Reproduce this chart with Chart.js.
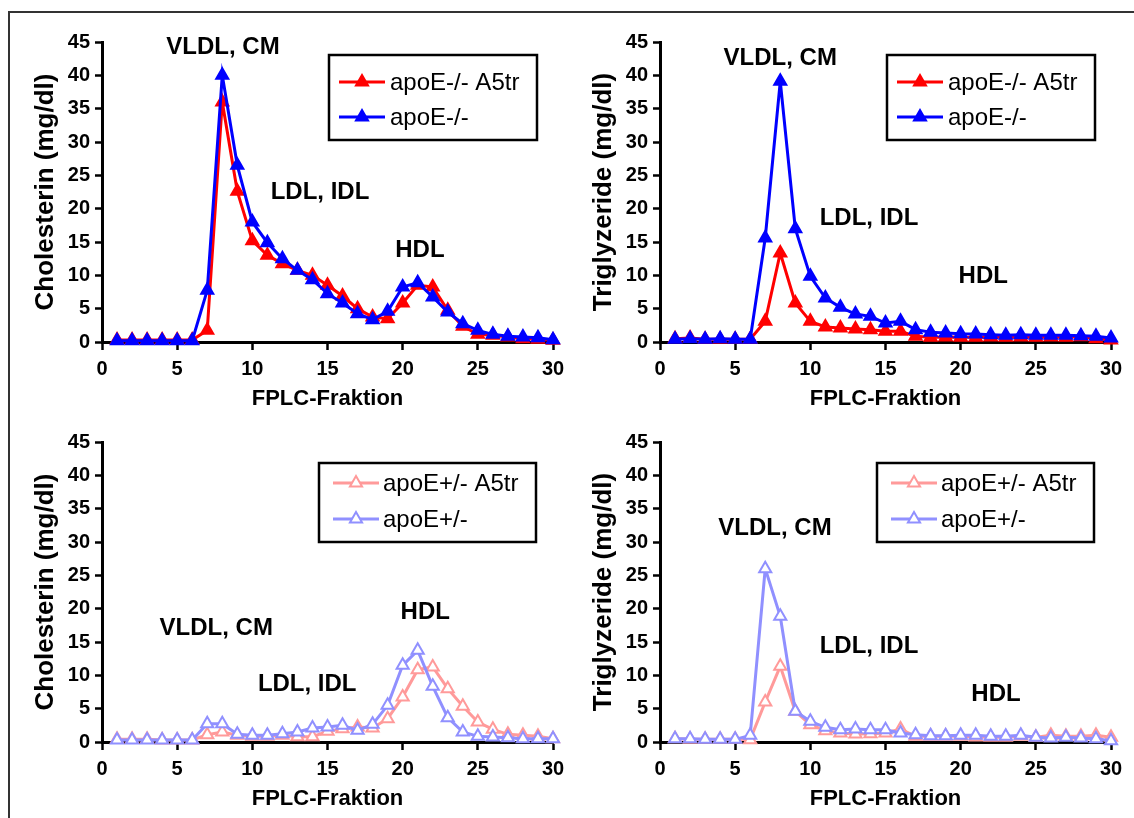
<!DOCTYPE html>
<html>
<head>
<meta charset="utf-8">
<script src="https://cdn.jsdelivr.net/npm/chart.js@4.4.0/dist/chart.umd.min.js"></script>
<style>
  body { margin: 0; background: #fff; width: 1134px; height: 818px; overflow: hidden; position: relative; }
  #frame { position: absolute; left: 8px; top: 11px; width: 1200px; height: 900px; border: 2px solid #333; }
  canvas { position: absolute; }
</style>
</head>
<body>
<div id="frame"></div>
<canvas id="cholKO" width="567" height="420" style="left:0px;top:0px"></canvas>
<canvas id="trigKO" width="567" height="420" style="left:558px;top:0px"></canvas>
<canvas id="cholHet" width="567" height="420" style="left:0px;top:400px"></canvas>
<canvas id="trigHet" width="567" height="420" style="left:558px;top:400px"></canvas>
<script>
// FPLC fractions (x values)
const fractions = [1, 2, 3, 4, 5, 6, 7, 8, 9, 10, 11, 12, 13, 14, 15, 16, 17, 18, 19, 20, 21, 22, 23, 24, 25, 26, 27, 28, 29, 30];
const xTicks = [0, 5, 10, 15, 20, 25, 30];
const yTicks = [0, 5, 10, 15, 20, 25, 30, 35, 40, 45];

// Cholesterin, apoE-/- mice
const cholKO_A5tr = [0.3, 0.3, 0.3, 0.3, 0.3, 0.3, 1.75, 36, 22.6, 15.2, 13, 11.75, 10.75, 10, 8.5, 6.9, 5, 3.75, 3.5, 5.85, 8.5, 8.25, 4.75, 2.35, 1.15, 1, 0.75, 0.5, 0.4, 0.25];
const cholKO = [0.2, 0.2, 0.2, 0.2, 0.2, 0.2, 7.75, 40, 26.5, 18, 14.9, 12.5, 10.75, 9.35, 7.25, 5.85, 4.25, 3.35, 4.6, 8.25, 8.9, 6.75, 4.5, 2.75, 1.75, 1.15, 0.85, 0.75, 0.65, 0.35];

// Triglyzeride, apoE-/- mice
const trigKO_A5tr = [0.5, 0.6, 0.4, 0.4, 0.4, 0.4, 3.1, 13.35, 5.85, 3.1, 2.25, 2.1, 1.95, 1.85, 1.6, 1.6, 0.85, 0.7, 0.75, 0.7, 0.7, 0.75, 0.7, 0.75, 0.7, 0.75, 0.7, 0.8, 0.5, 0.3];
const trigKO = [0.4, 0.5, 0.4, 0.5, 0.4, 0.4, 15.6, 39.1, 17, 9.85, 6.6, 5.2, 4.2, 3.85, 2.85, 3.1, 1.85, 1.45, 1.35, 1.25, 1.2, 1.1, 1.0, 1.1, 1.0, 1.0, 1.0, 0.95, 0.85, 0.6];

// Cholesterin, apoE+/- mice
const cholHet_A5tr = [0.4, 0.4, 0.4, 0.3, 0.3, 0.3, 1.1, 1.5, 1.0, 0.85, 0.85, 1.0, 0.8, 0.8, 1.6, 2.0, 2.25, 2.1, 3.5, 6.75, 10.85, 11.25, 8.0, 5.35, 3.0, 1.9, 1.15, 1.0, 0.85, 0.5];
const cholHet = [0.3, 0.3, 0.3, 0.3, 0.3, 0.3, 2.75, 2.75, 1.15, 1.0, 1.0, 1.25, 1.5, 2.1, 2.25, 2.5, 1.75, 2.65, 5.5, 11.5, 13.75, 8.35, 3.65, 1.5, 0.85, 0.75, 0.65, 0.5, 0.5, 0.5];

// Triglyzeride, apoE+/- mice
const trigHet_A5tr = [0.5, 0.4, 0.4, 0.4, 0.4, 0.35, 6.0, 11.35, 4.6, 2.6, 1.7, 1.35, 1.2, 1.25, 1.35, 1.95, 0.85, 0.85, 0.85, 0.85, 0.75, 0.7, 0.7, 0.85, 0.7, 1.0, 0.85, 0.85, 1.0, 0.7];
const trigHet = [0.5, 0.5, 0.4, 0.4, 0.4, 1.0, 26.0, 18.85, 4.6, 3.1, 2.2, 1.85, 1.95, 1.85, 1.85, 1.35, 1.1, 0.95, 0.95, 1.0, 1.0, 0.85, 0.85, 1.0, 0.7, 0.6, 0.7, 0.6, 0.5, 0.2];

const FONT = '"Liberation Sans", Arial, Helvetica, sans-serif';
Chart.defaults.color = '#000';
Chart.defaults.font.family = FONT;

// --- plugin: region labels placed at data coordinates ---
const regionLabels = {
    id: 'regionLabels',
    afterDraw(chart, args, opts) {
        const ctx = chart.ctx;
        const sx = chart.scales.x, sy = chart.scales.y;
        ctx.save();
        ctx.font = 'bold 24px ' + FONT;
        ctx.fillStyle = '#000';
        ctx.textAlign = 'center';
        ctx.textBaseline = 'middle';
        (opts.items || []).forEach(it => {
            ctx.fillText(it.text, sx.getPixelForValue(it.x), sy.getPixelForValue(it.y));
        });
        ctx.restore();
    }
};

// --- plugin: boxed legend like the original figure ---
const boxLegend = {
    id: 'boxLegend',
    afterDraw(chart, args, opts) {
        if (!opts.w) return;
        const ctx = chart.ctx;
        ctx.save();
        ctx.fillStyle = '#fff';
        ctx.fillRect(opts.x, opts.y, opts.w, opts.h);
        ctx.lineWidth = 2.5;
        ctx.strokeStyle = '#000';
        ctx.strokeRect(opts.x, opts.y, opts.w, opts.h);
        ctx.font = '24px ' + FONT;
        ctx.textBaseline = 'middle';
        chart.data.datasets.forEach((ds, i) => {
            const y = opts.y + opts.rows[i];
            ctx.strokeStyle = ds.borderColor;
            ctx.lineWidth = ds.borderWidth;
            ctx.beginPath();
            ctx.moveTo(opts.x + opts.lineX, y);
            ctx.lineTo(opts.x + opts.lineX + 46, y);
            ctx.stroke();
            ctx.fillStyle = ds.pointBackgroundColor;
            ctx.lineWidth = ds.pointBorderWidth;
            Chart.helpers.drawPoint(ctx, { pointStyle: 'triangle', radius: ds.pointRadius, borderWidth: ds.pointBorderWidth, rotation: 0 }, opts.x + opts.lineX + 23, y);
            ctx.fillStyle = '#000';
            ctx.fillText(ds.label, opts.x + opts.textX, y + 1);
        });
        ctx.restore();
    }
};

function series(label, values, color, fill, order) {
    return {
        label: label,
        data: values.map((v, i) => ({ x: fractions[i], y: v })),
        borderColor: color,
        backgroundColor: color,
        pointBackgroundColor: fill,
        pointBorderColor: color,
        pointBorderWidth: 2,
        borderWidth: 3,
        pointStyle: 'triangle',
        pointRadius: 7,
        tension: 0,
        clip: false,
        order: order
    };
}

function makeChart(id, yTitle, datasets, notes, legendBox) {
    return new Chart(document.getElementById(id), {
        type: 'line',
        data: { datasets: datasets },
        options: {
            responsive: false,
            animation: false,
            layout: { padding: { top: 42, right: 14, left: 0, bottom: 0 } },
            scales: {
                x: {
                    type: 'linear', min: 0, max: 30,
                    afterBuildTicks: s => { s.ticks = xTicks.map(v => ({ value: v })); },
                    // fixed box so the plot area lines up with the original
                    afterFit: s => { s.height = 78; s.paddingLeft = 0; s.paddingRight = 0; },
                    border: { display: true, color: '#000', width: 3 },
                    grid: { display: true, drawOnChartArea: false, drawTicks: true, tickLength: 8, tickWidth: 2.5, tickColor: '#000' },
                    ticks: { padding: 7, font: { size: 20, weight: 'bold' }, color: '#000' },
                    title: { display: true, text: 'FPLC-Fraktion', font: { size: 22, weight: 'bold' }, color: '#000', padding: { top: 0, bottom: 8 } }
                },
                y: {
                    type: 'linear', min: 0, max: 45,
                    afterBuildTicks: s => { s.ticks = yTicks.map(v => ({ value: v })); },
                    afterFit: s => { s.width = 102; },
                    border: { display: true, color: '#000', width: 3 },
                    grid: { display: true, drawOnChartArea: false, drawTicks: true, tickLength: 7, tickWidth: 2.5, tickColor: '#000' },
                    ticks: { padding: 5, font: { size: 20, weight: 'bold' }, color: '#000' },
                    title: { display: true, text: yTitle, font: { size: 26, weight: 'bold' }, color: '#000', padding: { top: 30, bottom: 0 } }
                }
            },
            plugins: {
                legend: { display: false },
                tooltip: { enabled: false },
                regionLabels: { items: notes },
                boxLegend: legendBox
            }
        },
        plugins: [regionLabels, boxLegend]
    });
}

const topLegend = { x: 329, y: 55, w: 208, h: 85, rows: [27, 62], lineX: 10, textX: 61 };
const bottomLegend = { x: 319, y: 63, w: 217, h: 79, rows: [20, 56], lineX: 14, textX: 64 };

makeChart('cholKO', 'Cholesterin (mg/dl)', [
    series('apoE-/- A5tr', cholKO_A5tr, '#ff0000', '#ff0000', 1),
    series('apoE-/-', cholKO, '#0000ff', '#0000ff', 0)
], [
    { text: 'VLDL, CM', x: 8.05, y: 44.25 },
    { text: 'LDL, IDL', x: 14.5, y: 22.5 },
    { text: 'HDL', x: 21.15, y: 13.8 }
], topLegend);

makeChart('trigKO', 'Triglyzeride (mg/dl)', [
    series('apoE-/- A5tr', trigKO_A5tr, '#ff0000', '#ff0000', 1),
    series('apoE-/-', trigKO, '#0000ff', '#0000ff', 0)
], [
    { text: 'VLDL, CM', x: 8.0, y: 42.5 },
    { text: 'LDL, IDL', x: 13.9, y: 18.5 },
    { text: 'HDL', x: 21.5, y: 9.9 }
], topLegend);

makeChart('cholHet', 'Cholesterin (mg/dl)', [
    series('apoE+/- A5tr', cholHet_A5tr, '#ff9a9a', '#ffffff', 1),
    series('apoE+/-', cholHet, '#9090ff', '#ffffff', 0)
], [
    { text: 'VLDL, CM', x: 7.6, y: 17.1 },
    { text: 'LDL, IDL', x: 13.65, y: 8.7 },
    { text: 'HDL', x: 21.5, y: 19.5 }
], bottomLegend);

makeChart('trigHet', 'Triglyzeride (mg/dl)', [
    series('apoE+/- A5tr', trigHet_A5tr, '#ff9a9a', '#ffffff', 1),
    series('apoE+/-', trigHet, '#9090ff', '#ffffff', 0)
], [
    { text: 'VLDL, CM', x: 7.65, y: 32.1 },
    { text: 'LDL, IDL', x: 13.9, y: 14.4 },
    { text: 'HDL', x: 22.35, y: 7.2 }
], bottomLegend);
</script>
</body>
</html>
